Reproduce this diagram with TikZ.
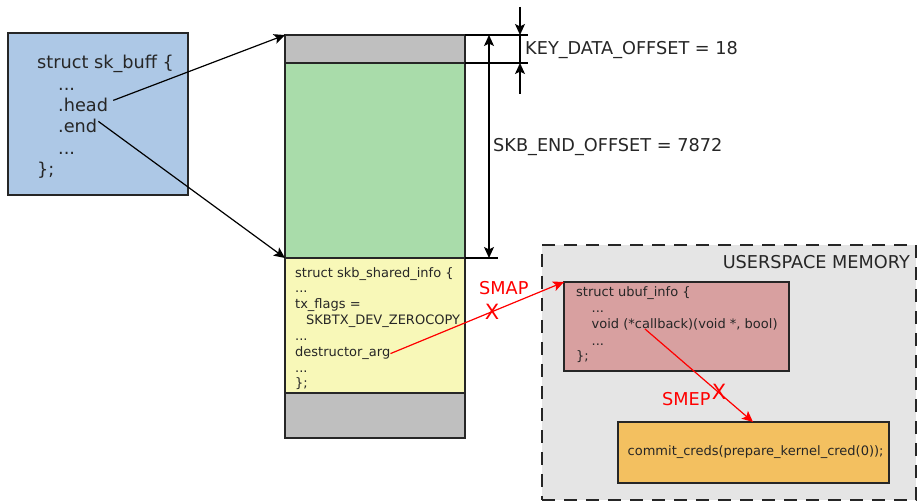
\documentclass[tikz,border=0pt]{standalone}
\usepackage{fontspec}
\setmainfont{DejaVu Sans}
\usetikzlibrary{arrows.meta}
\definecolor{cblue}{RGB}{173,200,230}
\definecolor{cgreen}{RGB}{169,220,170}
\definecolor{cyellow}{RGB}{248,248,184}
\definecolor{cgray}{RGB}{191,191,191}
\definecolor{cpink}{RGB}{216,160,160}
\definecolor{corange}{RGB}{243,192,96}
\definecolor{cuser}{RGB}{229,229,229}
\definecolor{cred}{RGB}{255,0,0}
\tikzset{
  box/.style={draw=black!85, line width=1.3pt, inner sep=0pt, outer sep=0pt, anchor=north west},
  bigtxt/.style={font=\fontsize{17.7}{21}\selectfont, inner sep=0pt, anchor=base west, text=black!85},
  smalltxt/.style={font=\fontsize{13}{15}\selectfont, inner sep=0pt, anchor=base west, text=black!85},
  redtxt/.style={font=\fontsize{17.7}{21}\selectfont, inner sep=0pt, anchor=base west, text=cred},
  xmark/.style={font=\fontsize{21}{23}\selectfont, inner sep=0pt, anchor=center, text=cred},
  tip/.style={-{Stealth[length=11pt,width=10pt,inset=2.5pt]}},
  arr/.style={line width=1.2pt, tip},
  redarr/.style={line width=1.2pt, draw=cred, tip, fill=cred},
  dim/.style={line width=1.2pt},
}
\begin{document}
\begin{tikzpicture}[x=1pt,y=-1pt]
\useasboundingbox (0,0) rectangle (918,502);

% sk_buff box
\node[box, fill=cblue, minimum width=180pt, minimum height=162pt] (skb) at (8,33) {};
\node[bigtxt] (s1) at (37,69) {struct sk\_buff \{};
\node[bigtxt] (s2) at (58,90.5) {...};
\node[bigtxt] (head) at (58,112) {.head};
\node[bigtxt] (endf) at (58,133) {.end};
\node[bigtxt] (s5) at (58,154.5) {...};
\node[bigtxt] (s6) at (37,176) {\};};

% memory column
\node[box, fill=cgray, minimum width=180pt, minimum height=28pt] (g1) at (285,35) {};
\node[box, fill=cgreen, minimum width=180pt, minimum height=195pt] (grn) at (285,63) {};
\node[box, fill=cyellow, minimum width=180pt, minimum height=135pt] (yel) at (285,258) {};
\node[box, fill=cgray, minimum width=180pt, minimum height=45pt] (g2) at (285,393) {};

\node[smalltxt] (y1) at (295,277.5) {struct skb\_shared\_info \{};
\node[smalltxt] (y2) at (295,293) {...};
\node[smalltxt] (y3) at (295,308.5) {tx\_flags =};
\node[smalltxt] (y4) at (306,325) {SKBTX\_DEV\_ZEROCOPY};
\node[smalltxt] (y5) at (295,340.5) {...};
\node[smalltxt] (darg) at (295,357) {destructor\_arg};
\node[smalltxt] (y7) at (295,372.5) {...};
\node[smalltxt] (y8) at (295,388) {\};};

% dimension lines
\coordinate (t1) at (528,35);
\coordinate (t2) at (528,63);
\coordinate (t3) at (498,258);
\draw[dim] (g1.north east) -- (t1);
\draw[dim] (g1.south east) -- (t2);
\draw[dim] (yel.north east) -- (t3);
\coordinate (skbA) at (489,35);
\coordinate (skbB) at (489,258);
\draw[dim, {Stealth[length=11pt,width=10pt,inset=2.5pt]}-{Stealth[length=11pt,width=10pt,inset=2.5pt]}] (skbA) -- (skbB);
\coordinate (k0) at (520,7);
\coordinate (k1) at (520,35);
\coordinate (k2) at (520,63);
\coordinate (k3) at (520,94);
\draw[dim, tip] (k0) -- (k1);
\draw[dim, tip] (k3) -- (k2);
\draw[dim] (k1) -- (k2);
\node[bigtxt] (kdo) at (525,55) {KEY\_DATA\_OFFSET = 18};
\node[bigtxt] (seo) at (493,151.5) {SKB\_END\_OFFSET = 7872};

% pointers from sk_buff
\draw[arr] ([xshift=5pt,yshift=5pt]head.east) -- (g1.north west);
\draw[arr] ([xshift=1pt,yshift=5pt]endf.east) -- (yel.north west);

% userspace
\node[box, fill=cuser, draw=black!85, dash pattern=on 13pt off 9pt, minimum width=374pt, minimum height=255pt] (us) at (542,245) {};
\node[bigtxt, anchor=base east] (ust) at (910,269) {USERSPACE MEMORY};

\node[box, fill=cpink, minimum width=225pt, minimum height=89pt] (ubuf) at (564,282) {};
\node[smalltxt] (u1) at (576,297) {struct ubuf\_info \{};
\node[smalltxt] (u2) at (591.5,313) {...};
\node[smalltxt] (cb) at (591.5,329) {void (*callback)(void *, bool)};
\node[smalltxt] (u4) at (591.5,345) {...};
\node[smalltxt] (u5) at (576,361) {\};};

\node[box, fill=corange, minimum width=271pt, minimum height=61pt] (cc) at (618,422) {};
\node[smalltxt] (cct) at (627.5,455) {commit\_creds(prepare\_kernel\_cred(0));};

% red arrows
\coordinate (cbstart) at (645,329);
\coordinate (ccend) at (753,422);
\draw[redarr] (darg.east) -- (ubuf.north west);
\draw[redarr] (cbstart) -- (ccend);
\node[redtxt] (smap) at (479,295) {SMAP};
\node[xmark] (x1) at (492,312) {X};
\node[redtxt] (smep) at (662,405) {SMEP};
\node[xmark] (x2) at (719,391.5) {X};
\end{tikzpicture}
\end{document}
